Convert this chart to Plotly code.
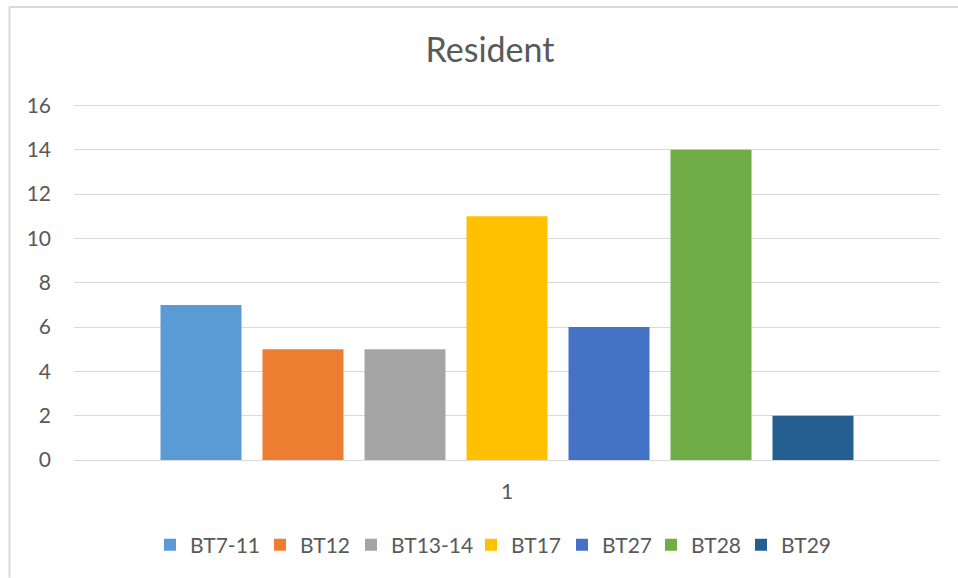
import plotly.graph_objects as go

categories = ["1"]
series_names = ["BT7-11", "BT12", "BT13-14", "BT17", "BT27", "BT28", "BT29"]
series_values = [7, 5, 5, 11, 6, 14, 2]
series_colors = ["#5B9BD5", "#ED7D31", "#A5A5A5", "#FFC000", "#4472C4", "#70AD47", "#255E91"]
y_ticks = [0, 2, 4, 6, 8, 10, 12, 14, 16]

# legend symbol centres (pixels) – layout only
legend_px = [170, 280, 371, 491, 582, 671, 761]

W, H = 958, 578
Y_TOP = 16.2
L, R, B = 74, 18, 118
T = 105 - (Y_TOP - 16) * 355 / 16
FONT = "Lato, 'Open Sans', sans-serif"

fig = go.Figure()
layout_legends = {}
for i, (name, val, col) in enumerate(zip(series_names, series_values, series_colors)):
    key = "legend" if i == 0 else f"legend{i + 1}"
    fig.add_trace(go.Bar(x=categories, y=[val], name=name, legend=key,
                         marker=dict(color=col, line=dict(width=0))))
    layout_legends[key] = dict(orientation="h", xref="container", yref="container",
                               x=(legend_px[i] - 20) / W, xanchor="left",
                               y=1 - 545 / H, yanchor="middle",
                               bgcolor="rgba(0,0,0,0)", borderwidth=0,
                               font=dict(size=21, color="#595959", family=FONT))

ph = H - T - B
fig.update_layout(
    width=W, height=H,
    margin=dict(l=L, r=R, t=T, b=B),
    paper_bgcolor="white", plot_bgcolor="white",
    barmode="group", bargap=0.1755, bargroupgap=0.206,
    font=dict(family=FONT, color="#595959", size=21),
    title=dict(text="Resident", x=490 / W, xanchor="center", xref="container",
               y=1 - 50 / H, yanchor="middle", yref="container",
               font=dict(size=34, color="#595959", family=FONT)),
    xaxis=dict(type="category", showgrid=False, showline=False, ticks="",
               tickfont=dict(size=21, color="#595959"), ticklabelstandoff=17),
    yaxis=dict(range=[0, Y_TOP], tickvals=y_ticks, showgrid=True, gridcolor="#D9D9D9", gridwidth=1,
               zeroline=True, zerolinecolor="#D9D9D9", zerolinewidth=1, showline=False, ticks="",
               tickfont=dict(size=21, color="#595959"), ticklabelstandoff=22),
    shapes=[
        dict(type="line", xref="paper", yref="paper",
             x0=(9.5 - L) / (W - L - R), x1=(W - L) / (W - L - R),
             y0=(H - B - 6.5) / ph, y1=(H - B - 6.5) / ph,
             line=dict(color="#D9D9D9", width=2)),
        dict(type="line", xref="paper", yref="paper",
             x0=(9.5 - L) / (W - L - R), x1=(9.5 - L) / (W - L - R),
             y0=(H - B - 6.5) / ph, y1=(H - B - H) / ph,
             line=dict(color="#D9D9D9", width=2)),
    ],
    showlegend=True,
    **layout_legends,
)

fig.write_html("out.html", config={"displayModeBar": False},
               post_script="document.body.style.margin='0';document.body.style.padding='0';document.body.style.overflow='hidden';")
